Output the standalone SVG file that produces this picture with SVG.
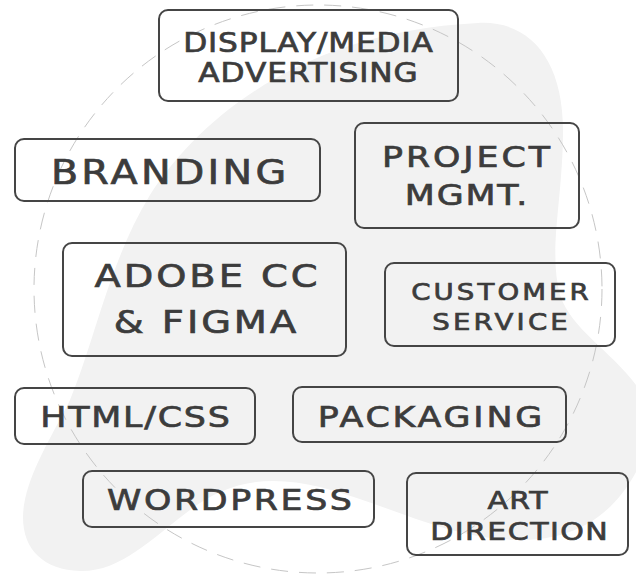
<svg xmlns="http://www.w3.org/2000/svg" width="636" height="575" viewBox="0 0 636 575">
  <style>
    .box { fill: none; stroke: #454545; stroke-width: 2; }
    .lbl { font-family: "DejaVu Sans", "Liberation Sans", sans-serif; font-weight: normal; fill: #3c3c3c; stroke: #3c3c3c; stroke-width: 0.7; text-anchor: middle; }
  </style>
  <rect width="636" height="575" fill="#ffffff"/>
  <path id="blob" fill="#f2f2f2" d="M 478 23 C 530 20, 563 60, 563 130 C 563 200, 548 250, 560 295 C 572 330, 610 350, 636 385 L 660 400 L 660 460 L 636 472 C 610 520, 570 540, 520 540 C 450 540, 390 505, 320 487 C 270 475, 230 480, 190 510 C 150 540, 120 572, 80 571 C 40 570, 18 545, 24 505 C 30 470, 50 440, 70 400 C 95 340, 110 260, 150 195 C 195 125, 295 32, 478 23 Z"/>
  <circle id="ring" cx="318" cy="289" r="284" fill="none" stroke="#c6c6c6" stroke-width="1" stroke-dasharray="17 11"/>
  <g id="connectors"></g>
  <g id="display-media">
    <rect class="box" x="159" y="10" width="299" height="91" rx="9"/>
    <text class="lbl" transform="translate(308 51.5) scale(1.2 1)" font-size="26" textLength="208" lengthAdjust="spacing">DISPLAY/MEDIA</text>
    <text class="lbl" transform="translate(308 81.5) scale(1.2 1)" font-size="26" textLength="183" lengthAdjust="spacing">ADVERTISING</text>
  </g>
  <g id="branding">
    <rect class="box" x="15" y="139" width="305" height="62" rx="9"/>
    <text class="lbl" transform="translate(168.5 184) scale(1.2 1)" font-size="33" textLength="196" lengthAdjust="spacing">BRANDING</text>
  </g>
  <g id="project-mgmt">
    <rect class="box" x="355" y="123" width="224" height="105" rx="9"/>
    <text class="lbl" transform="translate(466 166.5) scale(1.2 1)" font-size="29" textLength="140" lengthAdjust="spacing">PROJECT</text>
    <text class="lbl" transform="translate(466 205) scale(1.2 1)" font-size="29" textLength="102" lengthAdjust="spacing">MGMT.</text>
  </g>
  <g id="adobe-figma">
    <rect class="box" x="63" y="243" width="283" height="113" rx="9"/>
    <text class="lbl" transform="translate(206 286.5) scale(1.2 1)" font-size="32" textLength="186" lengthAdjust="spacing">ADOBE CC</text>
    <text class="lbl" transform="translate(205 333) scale(1.2 1)" font-size="32" textLength="152" lengthAdjust="spacing">&amp; FIGMA</text>
  </g>
  <g id="customer-service">
    <rect class="box" x="385" y="263" width="230" height="83" rx="9"/>
    <text class="lbl" transform="translate(500 299.5) scale(1.2 1)" font-size="23" textLength="148" lengthAdjust="spacing">CUSTOMER</text>
    <text class="lbl" transform="translate(500 330) scale(1.2 1)" font-size="23" textLength="113" lengthAdjust="spacing">SERVICE</text>
  </g>
  <g id="html-css">
    <rect class="box" x="15" y="388" width="240" height="56" rx="9"/>
    <text class="lbl" transform="translate(135 426.5) scale(1.2 1)" font-size="29" textLength="158" lengthAdjust="spacing">HTML/CSS</text>
  </g>
  <g id="packaging">
    <rect class="box" x="293" y="387" width="273" height="55" rx="9"/>
    <text class="lbl" transform="translate(430 426.5) scale(1.2 1)" font-size="29" textLength="187" lengthAdjust="spacing">PACKAGING</text>
  </g>
  <g id="wordpress">
    <rect class="box" x="83" y="471" width="291" height="56" rx="9"/>
    <text class="lbl" transform="translate(229.5 510) scale(1.2 1)" font-size="29" textLength="204" lengthAdjust="spacing">WORDPRESS</text>
  </g>
  <g id="art-direction">
    <rect class="box" x="407" y="473" width="221" height="82" rx="9"/>
    <text class="lbl" transform="translate(517.5 508.5) scale(1.2 1)" font-size="25" textLength="50" lengthAdjust="spacing">ART</text>
    <text class="lbl" transform="translate(519 539.5) scale(1.2 1)" font-size="25" textLength="148" lengthAdjust="spacing">DIRECTION</text>
  </g>
</svg>
